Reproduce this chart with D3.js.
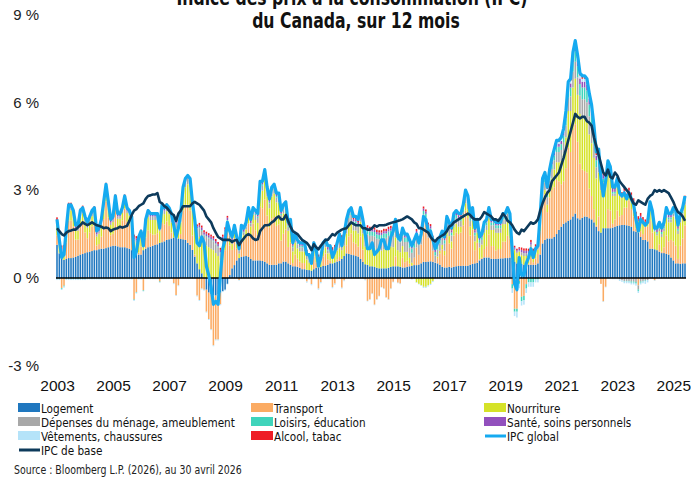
<!DOCTYPE html>
<html>
<head>
<meta charset="utf-8">
<script src="https://cdn.jsdelivr.net/npm/d3@7"></script>
<style>
  body { margin: 0; background: #fff; }
  svg { display: block; font-family: "Liberation Sans Narrow", "DejaVu Sans Condensed", "Arial Narrow", sans-serif; }
</style>
</head>
<body>
<svg id="chart" width="691" height="478"></svg>
<script>
// --- monthly data, one value per month (first = Dec 2003, last = May 2026)
const ipcGlobal = [2.0,
  1.3,0.7,0.8,1.7,2.5,2.5,2.3,1.8,1.8,2.3,2.4,2.1,
  1.9,2.1,2.3,2.4,1.6,1.7,2.0,2.6,3.2,2.6,2.0,2.1,
  2.8,2.2,2.2,2.4,2.8,2.4,2.3,2.1,0.7,0.9,1.4,1.6,
  1.1,2.0,2.3,2.2,2.2,2.2,2.2,1.7,2.5,2.4,2.5,2.4,
  2.2,1.8,1.4,1.7,2.2,3.1,3.4,3.5,3.4,2.6,2.0,1.2,
  1.1,1.4,1.2,0.4,0.1,-0.3,-0.9,-0.8,-0.9,0.1,1.0,1.3,
  1.9,1.6,1.4,1.8,1.4,1.0,1.8,1.7,1.9,2.4,2.0,2.4,
  2.3,2.2,3.3,3.3,3.7,3.1,2.7,3.1,3.2,2.9,2.9,2.3,
  2.5,2.6,1.9,2.0,1.2,1.5,1.3,1.2,1.2,1.2,0.8,0.8,
  0.5,1.2,1.0,0.4,0.7,1.2,1.3,1.1,1.1,0.7,0.9,1.2,
  1.5,1.1,1.5,2.0,2.3,2.4,2.1,2.1,2.0,2.4,2.0,1.5,
  1.0,1.0,1.2,0.8,0.9,1.0,1.3,1.3,1.0,1.0,1.4,1.6,
  2.0,1.4,1.3,1.7,1.5,1.5,1.3,1.1,1.3,1.5,1.2,1.5,
  2.1,2.0,1.6,1.6,1.3,1.0,1.2,1.4,1.6,1.4,2.1,1.9,
  1.7,2.2,2.3,2.2,2.2,2.5,3.0,2.8,2.2,2.4,1.7,2.0,
  1.4,1.5,1.9,2.0,2.4,2.0,2.0,1.9,1.9,1.9,2.2,2.2,
  2.4,2.2,0.9,-0.2,-0.4,0.7,0.1,0.1,0.5,0.7,1.0,0.7,
  1.0,1.1,2.2,3.4,3.6,3.1,3.7,4.1,4.4,4.7,4.7,4.8,
  5.1,5.7,6.7,6.8,7.7,8.1,7.6,7.0,6.9,6.9,6.8,6.3,
  5.9,5.2,4.3,4.4,3.4,2.8,3.3,4.0,3.8,3.1,3.1,3.4,
  2.9,2.8,2.9,2.7,2.9,2.7,2.5,2.0,1.6,2.0,1.9,1.8,
  1.9,2.6,2.3,1.7,1.7,1.9,1.7,1.9,2.4,2.2,2.2,2.4,
  2.3,1.8,2.2,2.4,2.8];

const ipcBase = [1.7,
  1.6,1.5,1.45,1.55,1.6,1.62,1.65,1.65,1.73,1.8,1.9,1.85,
  1.8,1.85,1.9,1.85,1.8,1.78,1.75,1.7,1.72,1.7,1.6,1.65,
  1.68,1.7,1.75,1.72,1.75,1.78,1.95,2.15,2.3,2.35,2.45,2.5,
  2.55,2.7,2.8,2.82,2.85,2.85,2.9,2.6,2.55,2.45,2.4,2.3,
  2.2,2.15,1.95,2.2,2.3,2.45,2.45,2.45,2.45,2.55,2.6,2.55,
  2.5,2.4,2.3,2.1,2.0,1.9,1.7,1.55,1.4,1.35,1.3,1.3,
  1.3,1.3,1.23,1.28,1.3,1.12,1.25,1.35,1.45,1.5,1.45,1.35,
  1.3,1.32,1.6,1.7,1.8,1.8,1.82,1.9,1.95,2.05,2.1,2.0,
  2.0,2.15,1.95,1.75,1.6,1.55,1.5,1.4,1.3,1.25,1.2,1.1,
  0.95,1.15,1.05,0.98,1.1,1.2,1.3,1.3,1.4,1.5,1.45,1.55,
  1.6,1.65,1.68,1.7,1.8,1.9,1.85,1.8,1.8,1.8,1.7,1.7,
  1.65,1.65,1.7,1.8,1.75,1.8,1.8,1.8,1.82,1.85,1.88,1.9,
  1.92,1.95,1.97,2.0,2.05,2.1,2.05,2.0,1.9,1.85,1.7,1.7,
  1.65,1.6,1.55,1.4,1.3,1.25,1.35,1.4,1.45,1.5,1.6,1.75,
  1.8,1.9,1.95,2.0,2.05,2.1,2.15,2.2,2.15,2.05,2.0,2.0,
  2.0,2.1,2.25,2.2,2.15,2.1,2.0,2.0,1.95,2.05,2.2,2.1,
  1.95,1.9,1.8,1.65,1.55,1.5,1.65,1.6,1.7,1.8,1.9,1.85,
  1.9,2.0,2.3,2.55,2.75,2.9,3.0,3.3,3.4,3.5,3.6,3.85,
  4.1,4.4,4.7,5.0,5.3,5.6,5.5,5.45,5.5,5.5,5.35,5.3,
  5.2,4.8,4.5,4.2,3.9,3.6,3.5,3.7,3.45,3.4,3.6,3.5,
  3.3,3.2,3.1,3.0,2.9,2.7,2.55,2.5,2.65,2.6,2.55,2.5,
  2.7,2.8,2.85,3.0,2.95,3.0,2.95,3.0,2.95,2.9,2.75,2.6,
  2.4,2.25,2.2,2.1,1.95];

const logement = [1.13,
  0.84,0.65,0.62,0.65,0.68,0.68,0.70,0.72,0.76,0.80,0.82,0.85,
  0.88,0.9,0.92,0.95,0.95,0.98,1.0,1.0,1.02,1.05,1.08,1.1,
  1.1,1.08,1.05,1.05,1.05,1.02,1.0,0.95,0.9,0.85,0.8,0.8,
  0.95,1.0,1.05,1.07,1.1,1.13,1.15,1.2,1.22,1.25,1.3,1.32,
  1.35,1.38,1.38,1.35,1.33,1.32,1.3,1.2,1.13,0.96,0.73,0.5,
  0.3,0.16,0.0,-0.4,-0.5,-0.55,-0.6,-0.6,-0.55,-0.5,-0.45,-0.4,
  -0.2,0.1,0.33,0.44,0.6,0.68,0.72,0.74,0.75,0.72,0.65,0.6,
  0.6,0.6,0.6,0.58,0.55,0.5,0.45,0.45,0.45,0.45,0.5,0.5,
  0.56,0.56,0.5,0.45,0.4,0.4,0.38,0.35,0.3,0.3,0.28,0.27,
  0.25,0.3,0.35,0.35,0.38,0.41,0.42,0.45,0.5,0.5,0.53,0.56,
  0.58,0.65,0.75,0.84,0.82,0.8,0.78,0.75,0.73,0.65,0.55,0.47,
  0.45,0.4,0.4,0.38,0.35,0.33,0.33,0.33,0.33,0.35,0.38,0.4,
  0.4,0.4,0.38,0.36,0.36,0.38,0.4,0.42,0.44,0.44,0.46,0.5,
  0.55,0.55,0.56,0.57,0.55,0.52,0.5,0.45,0.38,0.36,0.36,0.38,
  0.36,0.38,0.4,0.41,0.41,0.42,0.41,0.42,0.45,0.48,0.5,0.52,
  0.6,0.65,0.7,0.7,0.7,0.66,0.65,0.65,0.66,0.67,0.67,0.68,
  0.68,0.7,0.6,0.55,0.5,0.5,0.48,0.45,0.45,0.45,0.45,0.45,
  0.45,0.5,0.8,1.18,1.3,1.35,1.35,1.35,1.4,1.5,1.64,1.75,
  1.85,1.9,1.95,2.0,2.1,2.2,2.04,2.0,2.05,2.1,2.09,2.04,
  2.0,1.9,1.75,1.6,1.55,1.7,1.7,1.7,1.7,1.72,1.75,1.78,
  1.8,1.81,1.81,1.8,1.78,1.75,1.6,1.58,1.55,1.4,1.3,1.3,
  1.25,1.0,1.0,0.98,0.95,0.9,0.85,0.85,0.82,0.8,0.7,0.6,
  0.5,0.5,0.48,0.5,0.5];

const transport = [0.33,
  0.02,-0.34,-0.26,0.56,1.28,1.28,1.06,0.59,0.55,1.01,1.04,0.71,
  0.48,0.66,0.84,0.96,0.16,0.18,0.41,1.01,1.59,1.01,0.38,0.41,
  1.22,0.64,0.67,0.92,1.32,0.90,0.82,0.67,-0.73,-0.48,0.07,0.27,
  -0.42,0.38,0.58,0.46,0.38,0.35,0.38,-0.12,0.66,0.58,0.63,0.46,
  0.2,-0.18,-0.58,-0.25,0.17,0.98,1.2,1.3,1.17,0.49,0.07,-0.6,
  -0.75,-0.36,-0.4,-0.75,-0.9,-1.2,-1.7,-1.5,-1.55,-0.4,0.6,0.95,
  1.56,1.01,0.63,0.92,0.41,-0.07,0.64,0.52,0.66,1.14,0.81,1.26,
  1.03,0.88,1.83,1.8,2.13,1.63,1.28,1.58,1.63,1.33,1.33,0.78,
  0.95,1.1,0.56,0.76,0.11,0.41,0.28,0.21,0.21,0.21,-0.12,-0.01,
  -0.21,0.44,0.19,-0.36,-0.14,0.33,0.42,0.19,0.09,-0.31,-0.19,0.08,
  0.14,-0.33,-0.08,0.28,0.6,0.72,0.44,0.42,0.34,0.77,0.42,-0.05,
  -0.78,-0.73,-0.53,-0.91,-0.73,-0.61,-0.31,-0.36,-0.66,-0.73,-0.36,-0.13,
  0.34,-0.16,-0.19,0.33,0.18,0.21,0.09,-0.03,0.25,0.6,0.33,0.64,
  1.38,1.28,0.82,0.76,0.38,0.01,0.18,0.38,0.6,0.42,1.07,0.8,
  0.64,1.07,1.15,1.09,1.14,1.38,1.89,1.63,1.0,1.17,0.45,0.68,
  0.04,0.04,0.29,0.39,0.79,0.43,0.44,0.29,0.33,0.32,0.57,0.56,
  0.76,0.64,-0.21,-1.05,-1.05,-0.1,-0.64,-0.61,-0.21,0.04,0.24,0.09,
  0.22,0.32,0.8,1.47,1.55,0.9,1.4,1.65,1.7,1.85,1.66,1.45,
  1.45,1.85,2.5,2.3,2.95,3.05,2.61,1.9,1.65,1.55,1.51,1.01,
  0.8,0.45,0.05,0.5,-0.2,-0.8,-0.3,0.65,0.6,0.13,0.25,0.52,
  0.3,0.34,0.59,0.6,0.87,0.6,0.5,0.12,-0.25,0.2,0.2,0.45,
  0.5,0.95,0.55,-0.08,0.0,0.25,0.05,0.2,0.63,0.45,0.6,0.65,
  0.6,0.15,0.62,0.85,1.3];

const nourriture = [0.35,
  0.25,0.2,0.25,0.3,0.35,0.35,0.35,0.3,0.3,0.3,0.35,0.35,
  0.35,0.35,0.35,0.3,0.3,0.35,0.4,0.4,0.4,0.35,0.35,0.4,
  0.3,0.3,0.3,0.25,0.25,0.3,0.3,0.3,0.35,0.35,0.35,0.35,
  0.35,0.4,0.45,0.45,0.5,0.5,0.45,0.4,0.4,0.35,0.35,0.4,
  0.35,0.3,0.3,0.3,0.4,0.5,0.6,0.7,0.8,0.85,0.9,1.0,
  1.1,1.15,1.15,1.1,1.05,1.0,0.95,0.85,0.75,0.6,0.45,0.35,
  0.3,0.25,0.2,0.2,0.15,0.15,0.2,0.2,0.25,0.3,0.3,0.3,
  0.35,0.4,0.55,0.6,0.7,0.65,0.65,0.75,0.8,0.8,0.75,0.7,
  0.7,0.65,0.55,0.5,0.4,0.4,0.35,0.35,0.4,0.4,0.35,0.25,
  0.2,0.2,0.2,0.15,0.2,0.2,0.2,0.2,0.25,0.25,0.3,0.3,
  0.3,0.3,0.35,0.4,0.4,0.4,0.4,0.45,0.45,0.5,0.55,0.6,
  0.65,0.65,0.65,0.65,0.6,0.6,0.6,0.65,0.65,0.7,0.7,0.65,
  0.65,0.55,0.5,0.4,0.35,0.3,0.2,0.1,0.0,-0.15,-0.2,-0.25,
  -0.3,-0.3,-0.25,-0.2,-0.1,0.0,0.05,0.1,0.15,0.15,0.2,0.25,
  0.25,0.3,0.3,0.25,0.2,0.25,0.25,0.3,0.3,0.3,0.3,0.35,
  0.4,0.45,0.55,0.55,0.55,0.55,0.55,0.6,0.55,0.55,0.6,0.6,
  0.6,0.5,0.55,0.4,0.35,0.4,0.3,0.3,0.3,0.25,0.35,0.2,
  0.2,0.15,0.2,0.15,0.15,0.25,0.3,0.4,0.6,0.6,0.65,0.8,
  0.95,1.05,1.25,1.4,1.45,1.55,1.6,1.7,1.75,1.8,1.75,1.85,
  1.8,1.75,1.6,1.5,1.45,1.4,1.4,1.2,1.1,0.95,0.8,0.8,
  0.7,0.6,0.5,0.3,0.25,0.4,0.45,0.4,0.4,0.45,0.4,0.1,
  0.15,0.45,0.55,0.6,0.5,0.45,0.5,0.55,0.6,0.65,0.6,0.85,
  0.9,0.85,0.8,0.75,0.7];

const menage = [0.08,
  0.08,0.08,0.08,0.08,0.08,0.08,0.08,0.08,0.08,0.08,0.08,0.08,
  0.08,0.08,0.08,0.08,0.08,0.08,0.08,0.08,0.08,0.08,0.08,0.08,
  0.08,0.08,0.08,0.08,0.08,0.08,0.08,0.08,0.08,0.08,0.08,0.08,
  0.12,0.12,0.12,0.12,0.12,0.12,0.12,0.12,0.12,0.12,0.12,0.12,
  0.2,0.2,0.2,0.2,0.2,0.2,0.2,0.2,0.2,0.2,0.2,0.2,
  0.3,0.3,0.3,0.3,0.3,0.3,0.3,0.3,0.3,0.25,0.25,0.25,
  0.1,0.1,0.1,0.1,0.1,0.1,0.1,0.1,0.1,0.1,0.1,0.1,
  0.17,0.17,0.17,0.17,0.17,0.17,0.17,0.17,0.17,0.17,0.17,0.17,
  0.14,0.14,0.14,0.14,0.14,0.14,0.14,0.14,0.14,0.14,0.14,0.14,
  0.1,0.1,0.1,0.1,0.1,0.1,0.1,0.1,0.1,0.1,0.1,0.1,
  0.23,0.23,0.23,0.23,0.23,0.23,0.23,0.23,0.23,0.23,0.23,0.23,
  0.39,0.39,0.39,0.39,0.39,0.39,0.39,0.39,0.39,0.39,0.39,0.39,
  0.34,0.34,0.34,0.34,0.34,0.34,0.34,0.34,0.34,0.34,0.34,0.34,
  0.24,0.24,0.24,0.24,0.24,0.24,0.24,0.24,0.24,0.24,0.24,0.24,
  0.2,0.2,0.2,0.2,0.2,0.2,0.2,0.2,0.2,0.2,0.2,0.2,
  0.16,0.16,0.16,0.16,0.16,0.16,0.16,0.16,0.16,0.16,0.16,0.16,
  0.16,0.16,0.1,0.05,0.05,0.05,0.1,0.1,0.1,0.1,0.1,0.1,
  0.15,0.15,0.2,0.26,0.26,0.26,0.28,0.32,0.32,0.35,0.35,0.37,
  0.39,0.41,0.45,0.5,0.54,0.58,0.6,0.62,0.65,0.65,0.65,0.62,
  0.58,0.48,0.38,0.33,0.22,0.17,0.17,0.15,0.13,0.08,0.08,0.08,
  -0.05,-0.08,-0.1,-0.1,-0.1,-0.12,-0.12,-0.14,-0.14,-0.12,-0.1,-0.08,
  -0.07,0.03,0.03,0.03,0.06,0.1,0.1,0.1,0.13,0.1,0.1,0.1,
  0.11,0.11,0.11,0.11,0.11];

const loisirs = [-0.03,
  -0.03,-0.03,-0.03,-0.03,-0.03,-0.03,-0.03,-0.03,-0.03,-0.03,-0.03,-0.03,
  -0.02,-0.02,-0.02,-0.02,-0.02,-0.02,-0.02,-0.02,-0.02,-0.02,-0.02,-0.02,
  -0.02,-0.02,-0.02,-0.02,-0.02,-0.02,-0.02,-0.02,-0.02,-0.02,-0.02,-0.02,
  -0.02,-0.02,-0.02,-0.02,-0.02,-0.02,-0.02,-0.02,-0.02,-0.02,-0.02,-0.02,
  0.0,0.0,0.0,0.0,0.0,0.0,0.0,0.0,0.0,0.0,0.0,0.0,
  0.03,0.03,0.03,0.03,0.03,0.03,0.03,0.03,0.03,0.03,0.03,0.03,
  0.02,0.02,0.02,0.02,0.02,0.02,0.02,0.02,0.02,0.02,0.02,0.02,
  0.05,0.05,0.05,0.05,0.05,0.05,0.05,0.05,0.05,0.05,0.05,0.05,
  0.05,0.05,0.05,0.05,0.05,0.05,0.05,0.05,0.05,0.05,0.05,0.05,
  0.03,0.03,0.03,0.03,0.03,0.03,0.03,0.03,0.03,0.03,0.03,0.03,
  0.08,0.08,0.08,0.08,0.08,0.08,0.08,0.08,0.08,0.08,0.08,0.08,
  0.15,0.15,0.15,0.15,0.15,0.15,0.15,0.15,0.15,0.15,0.15,0.15,
  0.15,0.15,0.15,0.15,0.15,0.15,0.15,0.15,0.15,0.15,0.15,0.15,
  0.12,0.12,0.12,0.12,0.12,0.12,0.12,0.12,0.12,0.12,0.12,0.12,
  0.1,0.1,0.1,0.1,0.1,0.1,0.1,0.1,0.1,0.1,0.1,0.1,
  0.1,0.1,0.1,0.1,0.1,0.1,0.1,0.1,0.1,0.1,0.1,0.1,
  0.1,0.1,-0.15,-0.1,-0.1,-0.1,-0.15,-0.15,-0.15,-0.15,-0.15,-0.15,
  -0.05,-0.05,0.06,0.12,0.12,0.12,0.15,0.16,0.16,0.18,0.18,0.2,
  0.22,0.24,0.27,0.3,0.32,0.36,0.38,0.4,0.4,0.4,0.4,0.4,
  0.36,0.3,0.24,0.2,0.14,0.12,0.12,0.1,0.08,0.06,0.06,0.06,
  0.02,0.0,-0.02,-0.02,-0.02,-0.04,-0.04,-0.05,-0.05,-0.04,-0.02,-0.02,
  0.0,0.04,0.04,0.04,0.06,0.07,0.07,0.07,0.08,0.07,0.07,0.07,
  0.07,0.07,0.07,0.07,0.07];

const sante = [0.06,
  0.06,0.06,0.06,0.06,0.06,0.06,0.06,0.06,0.06,0.06,0.06,0.06,
  0.06,0.06,0.06,0.06,0.06,0.06,0.06,0.06,0.06,0.06,0.06,0.06,
  0.07,0.07,0.07,0.07,0.07,0.07,0.07,0.07,0.07,0.07,0.07,0.07,
  0.07,0.07,0.07,0.07,0.07,0.07,0.07,0.07,0.07,0.07,0.07,0.07,
  0.07,0.07,0.07,0.07,0.07,0.07,0.07,0.07,0.07,0.07,0.07,0.07,
  0.08,0.08,0.08,0.08,0.08,0.08,0.08,0.08,0.08,0.08,0.08,0.08,
  0.08,0.08,0.08,0.08,0.08,0.08,0.08,0.08,0.08,0.08,0.08,0.08,
  0.08,0.08,0.08,0.08,0.08,0.08,0.08,0.08,0.08,0.08,0.08,0.08,
  0.08,0.08,0.08,0.08,0.08,0.08,0.08,0.08,0.08,0.08,0.08,0.08,
  0.07,0.07,0.07,0.07,0.07,0.07,0.07,0.07,0.07,0.07,0.07,0.07,
  0.08,0.08,0.08,0.08,0.08,0.08,0.08,0.08,0.08,0.08,0.08,0.08,
  0.08,0.08,0.08,0.08,0.08,0.08,0.08,0.08,0.08,0.08,0.08,0.08,
  0.08,0.08,0.08,0.08,0.08,0.08,0.08,0.08,0.08,0.08,0.08,0.08,
  0.08,0.08,0.08,0.08,0.08,0.08,0.08,0.08,0.08,0.08,0.08,0.08,
  0.08,0.08,0.08,0.08,0.08,0.08,0.08,0.08,0.08,0.08,0.08,0.08,
  0.08,0.08,0.08,0.08,0.08,0.08,0.08,0.08,0.08,0.08,0.08,0.08,
  0.08,0.08,0.08,0.05,0.05,0.05,0.08,0.08,0.08,0.08,0.08,0.08,
  0.05,0.05,0.08,0.1,0.1,0.1,0.1,0.1,0.1,0.1,0.1,0.11,
  0.12,0.12,0.13,0.14,0.16,0.18,0.18,0.19,0.2,0.2,0.2,0.2,
  0.2,0.18,0.16,0.15,0.14,0.13,0.13,0.12,0.12,0.1,0.1,0.1,
  0.08,0.08,0.08,0.08,0.08,0.07,0.07,0.06,0.06,0.07,0.08,0.07,
  0.07,0.08,0.08,0.08,0.08,0.08,0.08,0.08,0.09,0.08,0.08,0.08,
  0.08,0.08,0.08,0.08,0.08];

const vetements = [-0.04,
  -0.04,-0.04,-0.04,-0.04,-0.04,-0.04,-0.04,-0.04,-0.04,-0.04,-0.04,-0.04,
  -0.03,-0.03,-0.03,-0.03,-0.03,-0.03,-0.03,-0.03,-0.03,-0.03,-0.03,-0.03,
  -0.03,-0.03,-0.03,-0.03,-0.03,-0.03,-0.03,-0.03,-0.03,-0.03,-0.03,-0.03,
  -0.02,-0.02,-0.02,-0.02,-0.02,-0.02,-0.02,-0.02,-0.02,-0.02,-0.02,-0.02,
  -0.03,-0.03,-0.03,-0.03,-0.03,-0.03,-0.03,-0.03,-0.03,-0.03,-0.03,-0.03,
  -0.03,-0.03,-0.03,-0.03,-0.03,-0.03,-0.03,-0.03,-0.03,-0.03,-0.03,-0.03,
  -0.02,-0.02,-0.02,-0.02,-0.02,-0.02,-0.02,-0.02,-0.02,-0.02,-0.02,-0.02,
  -0.03,-0.03,-0.03,-0.03,-0.03,-0.03,-0.03,-0.03,-0.03,-0.03,-0.03,-0.03,
  -0.04,-0.04,-0.04,-0.04,-0.04,-0.04,-0.04,-0.04,-0.04,-0.04,-0.04,-0.04,
  -0.04,-0.04,-0.04,-0.04,-0.04,-0.04,-0.04,-0.04,-0.04,-0.04,-0.04,-0.04,
  -0.03,-0.03,-0.03,-0.03,-0.03,-0.03,-0.03,-0.03,-0.03,-0.03,-0.03,-0.03,
  -0.02,-0.02,-0.02,-0.02,-0.02,-0.02,-0.02,-0.02,-0.02,-0.02,-0.02,-0.02,
  -0.02,-0.02,-0.02,-0.02,-0.02,-0.02,-0.02,-0.02,-0.02,-0.02,-0.02,-0.02,
  -0.04,-0.04,-0.04,-0.04,-0.04,-0.04,-0.04,-0.04,-0.04,-0.04,-0.04,-0.04,
  -0.03,-0.03,-0.03,-0.03,-0.03,-0.03,-0.03,-0.03,-0.03,-0.03,-0.03,-0.03,
  -0.04,-0.04,-0.04,-0.04,-0.04,-0.04,-0.04,-0.04,-0.04,-0.04,-0.04,-0.04,
  -0.04,-0.04,-0.15,-0.15,-0.2,-0.15,-0.15,-0.15,-0.15,-0.15,-0.15,-0.15,
  -0.1,-0.1,0.0,0.06,0.06,0.06,0.06,0.06,0.06,0.06,0.06,0.06,
  0.06,0.07,0.08,0.09,0.1,0.1,0.1,0.1,0.1,0.1,0.1,0.08,
  0.06,0.04,0.02,0.02,0.0,-0.02,-0.02,-0.02,-0.03,-0.04,-0.04,-0.04,
  -0.05,-0.05,-0.06,-0.06,-0.06,-0.06,-0.06,-0.07,-0.07,-0.06,-0.06,-0.1,
  -0.08,-0.02,-0.02,-0.02,-0.02,-0.02,-0.02,-0.02,-0.02,-0.02,-0.02,-0.02,
  -0.01,-0.01,-0.01,-0.01,-0.01];

const alcool = [0.12,
  0.12,0.12,0.12,0.12,0.12,0.12,0.12,0.12,0.12,0.12,0.12,0.12,
  0.1,0.1,0.1,0.1,0.1,0.1,0.1,0.1,0.1,0.1,0.1,0.1,
  0.08,0.08,0.08,0.08,0.08,0.08,0.08,0.08,0.08,0.08,0.08,0.08,
  0.07,0.07,0.07,0.07,0.07,0.07,0.07,0.07,0.07,0.07,0.07,0.07,
  0.06,0.06,0.06,0.06,0.06,0.06,0.06,0.06,0.06,0.06,0.06,0.06,
  0.07,0.07,0.07,0.07,0.07,0.07,0.07,0.07,0.07,0.07,0.07,0.07,
  0.06,0.06,0.06,0.06,0.06,0.06,0.06,0.06,0.06,0.06,0.06,0.06,
  0.05,0.05,0.05,0.05,0.05,0.05,0.05,0.05,0.05,0.05,0.05,0.05,
  0.06,0.06,0.06,0.06,0.06,0.06,0.06,0.06,0.06,0.06,0.06,0.06,
  0.1,0.1,0.1,0.1,0.1,0.1,0.1,0.1,0.1,0.1,0.1,0.1,
  0.12,0.12,0.12,0.12,0.12,0.12,0.12,0.12,0.12,0.12,0.12,0.12,
  0.08,0.08,0.08,0.08,0.08,0.08,0.08,0.08,0.08,0.08,0.08,0.08,
  0.06,0.06,0.06,0.06,0.06,0.06,0.06,0.06,0.06,0.06,0.06,0.06,
  0.07,0.07,0.07,0.07,0.07,0.07,0.07,0.07,0.07,0.07,0.07,0.07,
  0.1,0.1,0.1,0.1,0.1,0.1,0.1,0.1,0.1,0.1,0.1,0.1,
  0.06,0.06,0.06,0.06,0.06,0.06,0.06,0.06,0.06,0.06,0.06,0.06,
  0.06,0.06,0.08,0.05,0.05,0.05,0.08,0.08,0.08,0.08,0.08,0.08,
  0.08,0.08,0.06,0.06,0.06,0.06,0.06,0.06,0.06,0.06,0.06,0.06,
  0.06,0.06,0.07,0.07,0.08,0.08,0.09,0.09,0.1,0.1,0.1,0.1,
  0.1,0.1,0.1,0.1,0.1,0.1,0.1,0.1,0.1,0.1,0.1,0.1,
  0.1,0.1,0.1,0.1,0.1,0.1,0.1,0.1,0.1,0.1,0.1,0.08,
  0.08,0.07,0.07,0.07,0.07,0.07,0.07,0.07,0.07,0.07,0.07,0.07,
  0.05,0.05,0.05,0.05,0.05];

const yTicks = [-3, 0, 3, 6, 9];
const yearLabels = ["2003","2005","2007","2009","2011","2013","2015","2017","2019","2021","2023","2025"];

const components = [
  { key: "Logement", values: logement, color: "#1f77bf" },
  { key: "Transport", values: transport, color: "#fbab63" },
  { key: "Nourriture", values: nourriture, color: "#d5e228" },
  { key: "Dépenses du ménage, ameublement", values: menage, color: "#a8a8a8" },
  { key: "Loisirs, éducation", values: loisirs, color: "#3fd4bb" },
  { key: "Santé, soins personnels", values: sante, color: "#9250bd" },
  { key: "Vêtements, chaussures", values: vetements, color: "#b5e3f9" },
  { key: "Alcool, tabac", values: alcool, color: "#ee1d25" }
];

// --- sizes
const width = 691, height = 478;
const n = ipcGlobal.length;

const svg = d3.select("#chart");

// the fonts here are wider than the original condensed face: squeeze texts
function condense(sel, f) {
  sel.each(function() {
    const w = this.getComputedTextLength();
    d3.select(this).attr("textLength", w * f).attr("lengthAdjust", "spacingAndGlyphs");
  });
}

const x = d3.scaleLinear().domain([0, n - 1]).range([57, 685]);
const y = d3.scaleLinear().domain([-3, 9]).range([365.9, 14.3]);
const barW = 1.55;

// stacked table built from the arrays
const table = d3.range(n).map(function(i) {
  const row = { i: i };
  components.forEach(function(c) { row[c.key] = c.values[i]; });
  return row;
});

const stack = d3.stack()
  .keys(components.map(c => c.key))
  .offset(d3.stackOffsetDiverging);
const series = stack(table);

const bars = svg.append("g");
series.forEach(function(s, k) {
  bars.append("g")
    .attr("fill", components[k].color)
    .selectAll("rect")
    .data(s)
    .enter().append("rect")
    .attr("x", d => x(d.data.i) - barW / 2)
    .attr("width", barW)
    .attr("y", d => y(d[1]))
    .attr("height", d => Math.max(0, y(d[0]) - y(d[1])));
});

// zero line
svg.append("line")
  .attr("x1", x(0) - 1).attr("x2", x(n - 1) + 1)
  .attr("y1", y(0)).attr("y2", y(0))
  .attr("stroke", "#000").attr("stroke-width", 1.5);

// lines
const line = d3.line().x((d, i) => x(i)).y(d => y(d));
svg.append("path").datum(ipcGlobal)
  .attr("d", line).attr("fill", "none")
  .attr("stroke", "#15aaf0").attr("stroke-width", 3.2)
  .attr("stroke-linejoin", "round");
svg.append("path").datum(ipcBase)
  .attr("d", line).attr("fill", "none")
  .attr("stroke", "#0d3a5b").attr("stroke-width", 2.6)
  .attr("stroke-linejoin", "round");

// y axis labels (no line)
const yAxis = d3.axisLeft(y).tickValues(yTicks).tickSize(0).tickPadding(0)
  .tickFormat(d => d + " %");
svg.append("g").attr("transform", "translate(39,0)")
  .call(yAxis)
  .call(g => g.select(".domain").remove())
  .selectAll("text")
  .attr("font-family", null)
  .attr("font-size", 15).attr("fill", "#222");

// x axis labels
const xAxis = d3.axisBottom(x)
  .tickValues(yearLabels.map((d, k) => k * 24))
  .tickFormat((d, k) => yearLabels[k])
  .tickSize(0).tickPadding(0);
svg.append("g").attr("transform", "translate(0,380)")
  .call(xAxis)
  .call(g => g.select(".domain").remove())
  .selectAll("text")
  .attr("font-family", null)
  .attr("font-size", 15.5).attr("fill", "#111");

// title (first line is cut by the top edge)
const title = svg.append("g")
  .attr("font-weight", "bold").attr("font-size", 21)
  .attr("text-anchor", "middle").attr("fill", "#111");
title.append("text").attr("x", 352).attr("y", 5)
  .text("Indice des prix à la consommation (IPC)");
title.append("text").attr("x", 356).attr("y", 28)
  .text("du Canada, sur 12 mois");
title.selectAll("text").call(condense, 0.83);

// legend
const legendItems = [
  { label: "Logement", color: "#1f77bf", col: 0, row: 0 },
  { label: "Transport", color: "#fbab63", col: 1, row: 0 },
  { label: "Nourriture", color: "#d5e228", col: 2, row: 0 },
  { label: "Dépenses du ménage, ameublement", color: "#a8a8a8", col: 0, row: 1 },
  { label: "Loisirs, éducation", color: "#3fd4bb", col: 1, row: 1 },
  { label: "Santé, soins personnels", color: "#9250bd", col: 2, row: 1 },
  { label: "Vêtements, chaussures", color: "#b5e3f9", col: 0, row: 2 },
  { label: "Alcool, tabac", color: "#ee1d25", col: 1, row: 2 },
  { label: "IPC global", color: "#15aaf0", col: 2, row: 2, line: true },
  { label: "IPC de base", color: "#0d3a5b", col: 0, row: 3, line: true }
];
const colX = [18, 251, 484];
const rowY = [408, 422, 436, 450];

const legend = svg.append("g").attr("font-size", 12.5).attr("fill", "#111");
legendItems.forEach(function(d) {
  const gx = colX[d.col], gy = rowY[d.row];
  if (d.line) {
    legend.append("line")
      .attr("x1", gx + 1).attr("x2", gx + 22)
      .attr("y1", gy).attr("y2", gy)
      .attr("stroke", d.color).attr("stroke-width", 3);
  } else {
    legend.append("rect")
      .attr("x", gx).attr("y", gy - 5)
      .attr("width", 22).attr("height", 9)
      .attr("fill", d.color);
  }
  legend.append("text")
    .attr("x", gx + 23).attr("y", gy + 4.5)
    .text(d.label);
});
legend.selectAll("text").call(condense, 0.93);

svg.append("text")
  .attr("x", 14).attr("y", 474)
  .attr("font-size", 12).attr("fill", "#222")
  .text("Source : Bloomberg L.P. (2026), au 30 avril 2026")
  .call(condense, 0.87);
</script>
</body>
</html>
